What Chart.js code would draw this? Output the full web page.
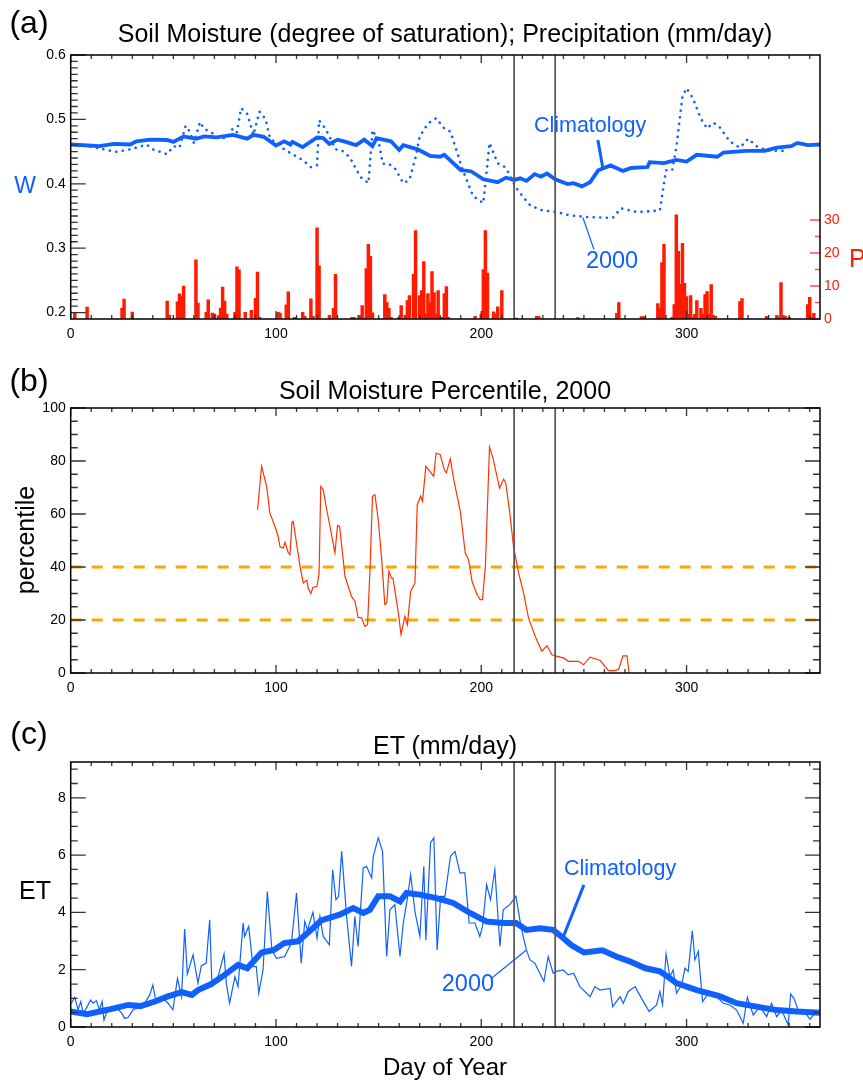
<!DOCTYPE html>
<html lang="en">
<head>
<meta charset="utf-8">
<title>Soil moisture, precipitation and ET, 2000</title>
<script src="https://cdn.jsdelivr.net/npm/chart.js@4.4.1/dist/chart.umd.min.js"></script>
<style>
  body { margin: 0; background: #fff; font-family: "Liberation Sans", Arial, Helvetica, sans-serif; }
  #fig { position: relative; width: 863px; height: 1080px; overflow: hidden; }
  canvas { position: absolute; left: 0; }
  .t { position: absolute; white-space: nowrap; transform: translate(-50%, -50%); color: #000; line-height: 1; }
</style>
</head>
<body>
<div id="fig">
  <canvas id="cA" width="863" height="345" style="top:0"></canvas>
  <canvas id="cB" width="863" height="360" style="top:345px"></canvas>
  <canvas id="cC" width="863" height="375" style="top:705px"></canvas>

  <div class="t" style="left:29px;top:22px;font-size:32px">(a)</div>
  <div class="t" style="left:445px;top:33px;font-size:25px">Soil Moisture (degree of saturation); Precipitation (mm/day)</div>
  <div class="t" style="left:25px;top:185px;font-size:23px;color:#1060ff">W</div>
  <div class="t" style="left:849px;top:258px;font-size:25px;color:#ff1a00;transform:translate(0,-50%)">P</div>

  <div class="t" style="left:29px;top:380px;font-size:32px">(b)</div>
  <div class="t" style="left:445px;top:390px;font-size:25px">Soil Moisture Percentile, 2000</div>
  <div class="t" style="left:25px;top:540px;font-size:25px;transform:translate(-50%,-50%) rotate(-90deg)">percentile</div>

  <div class="t" style="left:29px;top:733px;font-size:32px">(c)</div>
  <div class="t" style="left:445px;top:745px;font-size:25px">ET (mm/day)</div>
  <div class="t" style="left:35px;top:890px;font-size:25px">ET</div>
  <div class="t" style="left:445px;top:1067px;font-size:24px">Day of Year</div>
</div>

<script>
// ---- data: [day of year, value] ----
const dayTicks = [0, 100, 200, 300];
const wTicks = [0.2, 0.3, 0.4, 0.5, 0.6];
const pTicks = [0, 10, 20, 30];
const pctTicks = [0, 20, 40, 60, 80, 100];
const etTicks = [0, 2, 4, 6, 8];
const eventDays = [216, 236];
const pctThresholds = [20, 40];

// daily precipitation 2000 (mm/day), only wet days
const precip = [[2,1.7],[8,3.6],[25,3.3],[26,6],[30,2.1],[47,5.4],[48,1.2],[52,5.2],[53,7.6],[54,6.8],[55,10],
  [61,17.9],[62,4.8],[66,2],[67,5.8],[69,1.8],[70,1.5],[72,1],[73,3.3],[74,9.7],[75,5.4],[76,1.5],[80,2],[81,15.8],
  [82,14.9],[85,2],[88,2.6],[90,6.3],[91,14.2],[92,0.5],[101,2],[102,1.8],[105,4.3],[106,8.2],[109,0.5],[113,2],
  [114,0.8],[117,6.1],[118,0.8],[120,27.6],[121,16.1],[126,1.1],[128,3.2],[129,13.5],[137,0.5],[138,0.5],[141,1.1],
  [142,4.1],[144,15.3],[145,22.6],[146,19],[147,1.9],[153,7.4],[154,5],[155,3.2],[156,0.5],[160,0.5],[161,4.1],
  [163,1.1],[164,5.6],[165,7.1],[167,13.5],[168,26.8],[170,7.1],[171,8.6],[172,17.4],[173,1.6],[174,7.7],[175,5],
  [176,14.4],[177,8],[178,1.6],[179,8.6],[181,0.5],[182,7.7],[183,9.8],[184,0.5],[197,0.8],[200,1.4],[201,15],
  [202,26.8],[203,13.9],[206,2.2],[207,1.6],[208,3.7],[210,8.6],[217,0.3],[227,0.8],[228,0.8],[247,0.4],[266,1.7],
  [267,5],[278,0.7],[279,0.7],[286,4.7],[287,3.2],[288,17.1],[289,22.6],[293,0.5],[294,4.4],[295,31.6],[296,20.5],
  [297,10.5],[298,22.9],[299,10.8],[300,6.8],[301,1.5],[302,7.1],[303,0.5],[304,1.4],[305,5.6],[307,3.2],[308,1.4],
  [309,7.4],[310,8.3],[311,1.4],[312,10.4],[313,1.1],[314,0.8],[326,5.3],[327,6.2],[339,0.8],[344,1.1],[345,0.5],
  [346,11],[347,1.1],[348,0.8],[350,0.5],[359,4.4],[360,6.6],[361,0.5],[362,1.7]];

// soil moisture (degree of saturation)
const wClim = [[0,0.461],[14,0.4585],[21,0.462],[29,0.461],[32,0.466],[39,0.4685],[47,0.468],[50,0.465],[55,0.4735],
  [61,0.47],[65,0.4735],[71,0.472],[79,0.476],[86,0.47],[89,0.476],[94,0.473],[100,0.4595],[104,0.466],[107,0.461],
  [108,0.465],[113,0.457],[120,0.472],[123,0.471],[126,0.462],[130,0.4685],[134,0.465],[139,0.46],[143,0.4685],
  [147,0.4585],[149,0.471],[156,0.466],[160,0.4525],[162,0.46],[169,0.4535],[175,0.4435],[180,0.442],[182,0.445],
  [190,0.421],[195,0.4195],[201,0.407],[208,0.4025],[212,0.4095],[216,0.406],[219,0.4085],[222,0.4045],[226,0.415],
  [229,0.411],[232,0.416],[236,0.407],[242,0.3995],[245,0.401],[249,0.396],[253,0.4025],[257,0.421],[263,0.4285],
  [269,0.42],[273,0.4245],[281,0.426],[282,0.4335],[289,0.432],[295,0.437],[300,0.4345],[305,0.445],[315,0.442],
  [318,0.4485],[329,0.451],[338,0.451],[344,0.456],[351,0.4585],[354,0.4635],[359,0.46],[365,0.461]];
const w2000 = [[0,0.461],[8,0.4585],[14,0.455],[22,0.4495],[29,0.4535],[37,0.461],[40,0.4535],[47,0.446],[50,0.4585],
  [53,0.456],[56,0.49],[58,0.481],[60,0.4635],[63,0.496],[65,0.485],[68,0.481],[72,0.471],[76,0.471],[79,0.486],
  [81,0.48],[83,0.5175],[86,0.5085],[89,0.476],[92,0.512],[95,0.5],[97,0.471],[104,0.4535],[108,0.446],[113,0.437],
  [117,0.426],[120,0.4285],[121,0.4985],[124,0.486],[126,0.4735],[129,0.4535],[132,0.452],[136,0.441],[141,0.411],
  [145,0.401],[147,0.4835],[150,0.466],[152,0.431],[155,0.431],[158,0.4235],[162,0.401],[165,0.406],[168,0.441],
  [170,0.4735],[174,0.4935],[178,0.502],[182,0.486],[185,0.481],[191,0.421],[196,0.381],[201,0.37],[204,0.4635],
  [208,0.432],[212,0.425],[217,0.3935],[220,0.381],[224,0.366],[230,0.3585],[237,0.356],[243,0.351],[251,0.3485],
  [264,0.347],[268,0.362],[276,0.356],[287,0.3585],[290,0.421],[293,0.421],[295,0.456],[298,0.536],[300,0.5485],
  [303,0.5335],[307,0.501],[310,0.486],[313,0.495],[316,0.4885],[321,0.466],[326,0.456],[330,0.47],[334,0.4585],
  [339,0.452],[348,0.451]];

// soil moisture percentile, 2000
const pct2000 = [[91,61.6],[93,78],[95.5,70.2],[97,60.4],[99.5,55.3],[101,51.6],[102,47.5],[103.6,47.2],[104.4,49.3],
  [106,45.3],[106.8,44.7],[107.8,56.9],[108.4,57.2],[110,49],[111.7,40.3],[113.3,34],[115,35],[115.7,32],[117,30],
  [118,32.3],[120,32.7],[121,37.7],[121.8,70.4],[123,69.2],[124.7,61.6],[126.3,55.3],[128.7,45.3],[130,55.7],
  [131,55.3],[133.6,36.5],[136.8,28.9],[138.5,27],[140,21],[141.7,20.8],[143.3,17.6],[144.6,18.2],[145.8,39],
  [147,66.7],[148.2,67.3],[149.8,57.9],[151.5,42.8],[153,25.8],[154,26.4],[155,38.4],[156.3,35.8],[157,35.8],
  [159.6,22.6],[160.9,14.5],[162.8,21.4],[164,18.2],[165.6,30.8],[167.7,34],[168.8,63.5],[170.5,66.7],[171.4,64.8],
  [173,78],[175,76.1],[176.8,74.2],[178,83],[180,82.4],[182,76.7],[183,75.5],[184.9,80.8],[186.9,71.7],[189.8,61],
  [192.2,45.3],[193.8,42.8],[195.5,34.6],[197.9,29.6],[199.5,27.7],[200.6,27.7],[202,40.3],[204,85.3],[205.7,81.1],
  [208.9,69.8],[210.9,73.2],[211.9,71.7],[213.8,61],[215.7,47.8],[218.2,37.7],[220.6,30.2],[223,20.8],[226.3,13.8],
  [229.5,8.2],[232,10.3],[234.4,6.9],[236.9,6.3],[240.1,5.7],[242.5,4.4],[247.4,4.4],[249.8,3.1],[253,6],[258,4.7],
  [262,0.9],[265.3,0.9],[267,1.5],[269,6.5],[271,6.5],[272,0]];

// evapotranspiration (mm/day)
const etClim = [[0,0.54],[8,0.45],[18,0.6],[28,0.77],[34,0.73],[41,0.89],[47,1.06],[54,1.22],[59,1.12],[62,1.29],
  [68.5,1.5],[75,1.82],[81.5,2.17],[86,2.05],[93,2.6],[99,2.69],[104,2.93],[110.7,2.99],[117,3.39],[122,3.72],
  [131,3.92],[137.6,4.15],[142.5,3.98],[145.7,4.09],[149.8,4.56],[155.5,4.56],[160.4,4.38],[163.6,4.68],[170,4.62],
  [178.2,4.5],[186.3,4.33],[194.5,3.98],[202.6,3.68],[210.7,3.63],[217,3.63],[222,3.39],[228.5,3.45],[235,3.39],
  [240,3.1],[244,2.85],[250,2.6],[259,2.68],[266,2.45],[272,2.3],[280,2.05],[287,1.94],[291,1.75],[295,1.53],
  [305,1.29],[316,1.08],[324.4,0.83],[334.1,0.71],[343.9,0.59],[353.6,0.54],[365,0.5]];
const et2000 = [[0.3,0.83],[2,1.04],[3.6,0.6],[4.9,0.89],[6,0.5],[7.6,0.65],[9.7,0.94],[10.9,0.83],[12.5,0.92],
  [14,0.6],[15.3,0.89],[16.2,0.24],[18,0.6],[21.4,0.71],[24.7,0.5],[26.3,0.3],[28,0.34],[30.4,0.6],[33.6,0.69],
  [36,0.83],[38.5,1.12],[40,1.47],[41.7,0.83],[45,1.0],[47.4,0.83],[49.8,0.6],[52,1.7],[54,1.06],[55.5,3.42],
  [56.8,1.85],[59.6,2.52],[62,1.53],[63.6,2.13],[66,2.23],[67.7,3.74],[68.8,1.47],[71.8,1.76],[74.7,2.55],[75.8,1.53],
  [77.4,0.83],[80,1.76],[81.5,1.41],[84,3.63],[84.7,3.16],[86.7,3.51],[88.8,2.11],[90.4,2.11],[91.6,1.18],[93.7,1.99],
  [95.8,4.73],[98,2.69],[100.2,2.4],[104.2,2.46],[107.5,2.93],[110,4.68],[112.3,2.23],[114,3.68],[115.3,3.39],[118,4.0],
  [120,3.1],[121.4,3.86],[123,3.16],[126,2.87],[127.6,5.49],[129.2,4.44],[130.5,4.56],[132,6.13],[134.4,3.86],
  [136.8,2.11],[138.4,3.86],[140,2.81],[142.5,5.55],[144.1,5.61],[146.6,5.2],[147.4,5.96],[149.8,6.6],[151.9,6.13],
  [153.9,2.46],[155.5,4.09],[157.9,4.27],[160.4,2.46],[162,3.63],[163.9,4.44],[165.6,5.32],[167.7,4.03],[170.1,3.16],
  [172,5.61],[173,3.04],[175.3,6.43],[176.9,6.6],[178.5,2.69],[180.2,4.56],[182.3,4.56],[185,5.96],[187.2,6.13],
  [189.6,5.38],[192,5.38],[194.1,3.63],[196.9,3.63],[199.3,3.16],[200.6,3.51],[202.6,4.97],[204.5,4.44],[206.6,5.49],
  [209.1,2.81],[210.7,4.09],[213.9,4.27],[216.9,4.56],[218.8,3.74],[220.4,3.16],[222,2.69],[223.7,2.34],[226.1,2.23],
  [228.5,1.88],[230.5,1.59],[232.6,2.46],[235,1.88],[236.7,1.94],[239.9,1.99],[242.3,1.82],[245,1.88],[248,1.41],
  [253,1.06],[255.4,1.41],[257.8,1.29],[262.7,1.35],[264,0.71],[267.6,1.06],[269.2,0.83],[271.6,1.24],[274.9,1.41],
  [278.1,1.0],[281.8,0.54],[285.4,0.77],[287,1.24],[288.3,0.77],[290,2.55],[291.9,1.76],[293.5,1.99],[295.1,1.18],
  [297.6,1.47],[299.2,2.05],[300.8,1.94],[302.8,3.36],[304.1,2.34],[305.7,2.64],[307.8,0.89],[311.4,1.24],[314.6,1.06],
  [317.9,0.83],[321.1,0.77],[324.4,0.59],[327.6,0.13],[329.6,1.04],[332.5,0.42],[335.7,0.71],[339,0.36],[341.4,0.83],
  [343.9,0.36],[346.3,0.59],[349.5,0.07],[350.7,1.15],[352.3,1.0],[354.4,0.59],[356.9,0.59],[360.1,0.27],[362.5,0.48],
  [364.6,0.59]];

// ---- styling ----
const BLUE = '#1060ff';
const RED = '#ff1a00';
const FONT = "'Liberation Sans', Arial, Helvetica, sans-serif";
Chart.defaults.font.family = FONT;
Chart.defaults.color = '#000';

const pts = arr => arr.map(([x, y]) => ({ x, y }));
const fixedTicks = list => s => { s.ticks = list.map(v => ({ value: v })); };

// inward IDL-style ticks + box frame
function frame(marks) {
  return {
    id: 'frame',
    afterDatasetsDraw(chart) {
      const ctx = chart.ctx, a = chart.chartArea;
      ctx.save();
      marks.forEach(m => {
        const s = chart.scales[m.scale];
        const n = Math.round((m.to - m.from) / m.minor);
        ctx.strokeStyle = m.color || '#333';
        ctx.lineWidth = 1.3;
        ctx.beginPath();
        for (let i = 0; i <= n; i++) {
          const v = m.from + i * m.minor;
          const r = v / m.major;
          const len = Math.abs(r - Math.round(r)) < 1e-6 ? m.majLen : m.minLen;
          const p = s.getPixelForValue(v);
          m.sides.forEach(side => {
            if (side === 'left') { ctx.moveTo(a.left, p); ctx.lineTo(a.left + len, p); }
            if (side === 'right') { ctx.moveTo(a.right, p); ctx.lineTo(a.right - len, p); }
            if (side === 'bottom') { ctx.moveTo(p, a.bottom); ctx.lineTo(p, a.bottom - len); }
            if (side === 'top') { ctx.moveTo(p, a.top); ctx.lineTo(p, a.top + len); }
          });
        }
        ctx.stroke();
      });
      ctx.strokeStyle = '#000';
      ctx.lineWidth = 1.5;
      ctx.strokeRect(a.left, a.top, a.right - a.left, a.bottom - a.top);
      ctx.restore();
    }
  };
}

// labelled leader lines ("Climatology", "2000")
function callouts(items, yId) {
  return {
    id: 'callouts',
    afterDatasetsDraw(chart) {
      const ctx = chart.ctx, x = chart.scales.x, y = chart.scales[yId];
      items.forEach(c => {
        ctx.save();
        ctx.strokeStyle = BLUE;
        ctx.lineWidth = c.lw;
        ctx.beginPath();
        ctx.moveTo(x.getPixelForValue(c.from[0]), y.getPixelForValue(c.from[1]));
        ctx.lineTo(x.getPixelForValue(c.to[0]), y.getPixelForValue(c.to[1]));
        ctx.stroke();
        ctx.fillStyle = BLUE;
        ctx.font = c.size + 'px ' + FONT;
        ctx.textAlign = 'center';
        ctx.textBaseline = 'middle';
        ctx.fillText(c.text, x.getPixelForValue(c.at[0]), y.getPixelForValue(c.at[1]));
        ctx.restore();
      });
    }
  };
}

const xTickMarks = { scale: 'x', from: 0, to: 360, minor: 10, major: 100, majLen: 8, minLen: 4, sides: ['top', 'bottom'] };

function xScale(height) {
  return {
    type: 'linear', min: 0, max: 365, offset: false,
    grid: { display: false, drawTicks: false }, border: { display: false },
    afterBuildTicks: fixedTicks(dayTicks),
    afterFit: s => { s.height = height; },
    ticks: { font: { size: 14 }, color: '#000', padding: 7, maxRotation: 0 }
  };
}
function yScale(min, max, list, fmt) {
  return {
    position: 'left', min, max,
    grid: { display: false, drawTicks: false }, border: { display: false },
    afterBuildTicks: fixedTicks(list),
    afterFit: s => { s.width = 70.7; },
    ticks: { font: { size: 14 }, color: '#000', padding: 5, callback: fmt }
  };
}
function eventLines(lo, hi, yId) {
  return eventDays.map(d => ({
    data: [{ x: d, y: lo }, { x: d, y: hi }], yAxisID: yId,
    borderColor: '#5a5a5a', borderWidth: 1.8, order: 0
  }));
}
const common = {
  responsive: false, animation: false, devicePixelRatio: 1,
  plugins: { legend: { display: false }, tooltip: { enabled: false } },
  elements: { point: { radius: 0 }, line: { tension: 0 } }
};

// ---- (a) soil moisture + precipitation ----
new Chart(document.getElementById('cA'), {
  type: 'line',
  data: {
    datasets: [
      { type: 'bar', data: pts(precip), yAxisID: 'yP', backgroundColor: RED, barThickness: 2.8, order: 3 },
      { data: pts(w2000), yAxisID: 'y', borderColor: BLUE, borderWidth: 2.6, borderDash: [0.1, 6.5], borderCapStyle: 'round', order: 2 },
      { data: pts(wClim), yAxisID: 'y', borderColor: BLUE, borderWidth: 3.8, order: 1 },
      ...eventLines(0.19, 0.6, 'y')
    ]
  },
  options: {
    ...common,
    layout: { padding: { top: 55, left: 0, right: 0, bottom: 0 } },
    scales: {
      x: xScale(26),
      y: yScale(0.19, 0.6, wTicks, v => v.toFixed(1)),
      yP: {
        position: 'right', min: 0, max: 80,
        grid: { display: false, drawTicks: false }, border: { display: false },
        afterBuildTicks: fixedTicks(pTicks),
        afterFit: s => { s.width = 43; },
        ticks: { font: { size: 14 }, color: RED, padding: 4 }
      }
    }
  },
  plugins: [
    frame([
      xTickMarks,
      { scale: 'y', from: 0.2, to: 0.6, minor: 0.01, major: 0.1, majLen: 15, minLen: 7, sides: ['left'] },
      { scale: 'yP', from: 0, to: 30, minor: 5, major: 10, majLen: 10, minLen: 5, sides: ['right'], color: '#ff5050' }
    ]),
    callouts([
      { text: 'Climatology', size: 21.5, lw: 3, at: [253, 0.489], from: [256.8, 0.468], to: [259.3, 0.4229] },
      { text: '2000', size: 23.5, lw: 1.2, at: [263.7, 0.2785], from: [249.5, 0.3477], to: [254.9, 0.298] }
    ], 'y')
  ]
});

// ---- (b) soil moisture percentile ----
new Chart(document.getElementById('cB'), {
  type: 'line',
  data: {
    datasets: [
      ...pctThresholds.map(t => ({
        data: [{ x: 0, y: t }, { x: 365, y: t }], borderColor: '#ffa500', borderWidth: 3, borderDash: [11, 10], order: 3
      })),
      { data: pts(pct2000), borderColor: '#ff3300', borderWidth: 1.2, order: 1 },
      ...eventLines(0, 100, 'y')
    ]
  },
  options: {
    ...common,
    layout: { padding: { top: 63, left: 0, right: 43, bottom: 0 } },
    scales: { x: xScale(32), y: yScale(0, 100, pctTicks, v => String(v)) }
  },
  plugins: [
    frame([
      xTickMarks,
      { scale: 'y', from: 0, to: 100, minor: 5, major: 20, majLen: 15, minLen: 7, sides: ['left', 'right'] }
    ])
  ]
});

// ---- (c) evapotranspiration ----
new Chart(document.getElementById('cC'), {
  type: 'line',
  data: {
    datasets: [
      { data: pts(et2000), borderColor: BLUE, borderWidth: 1.2, order: 2 },
      { data: pts(etClim), borderColor: BLUE, borderWidth: 6, order: 1 },
      ...eventLines(0, 9.25, 'y')
    ]
  },
  options: {
    ...common,
    layout: { padding: { top: 57, left: 0, right: 43, bottom: 0 } },
    scales: { x: xScale(53), y: yScale(0, 9.25, etTicks, v => String(v)) }
  },
  plugins: [
    frame([
      xTickMarks,
      { scale: 'y', from: 0, to: 9, minor: 0.5, major: 2, majLen: 15, minLen: 7, sides: ['left', 'right'] }
    ]),
    callouts([
      { text: 'Climatology', size: 21.5, lw: 3, at: [267.6, 5.52], from: [250, 4.96], to: [239.8, 3.12] },
      { text: '2000', size: 23.5, lw: 1.2, at: [193.5, 1.47], from: [205, 1.7], to: [222, 2.69] }
    ], 'y')
  ]
});
</script>
</body>
</html>
